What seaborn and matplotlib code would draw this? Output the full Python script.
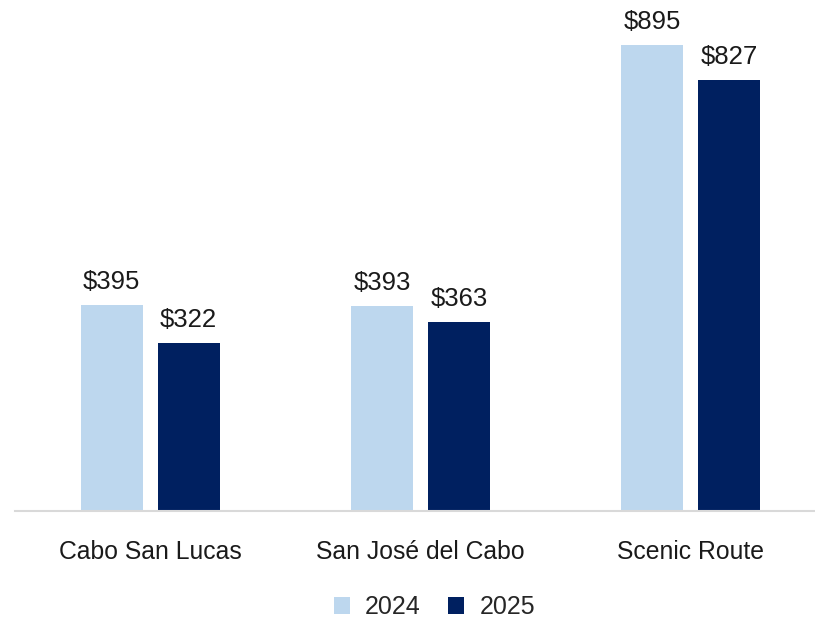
import matplotlib
matplotlib.use("Agg")
import matplotlib.pyplot as plt
import seaborn as sns
import pandas as pd

# Values
regions = ["Cabo San Lucas", "San José del Cabo", "Scenic Route"]
years = ["2024", "2025"]
price_2024 = [395, 393, 895]
price_2025 = [322, 363, 827]
colors = ["#BDD7EE", "#002060"]

df = pd.DataFrame({
    "region": regions * 2,
    "year": [years[0]] * 3 + [years[1]] * 3,
    "price": price_2024 + price_2025,
})

sns.set_style("white")
plt.rcParams["font.family"] = ["Liberation Sans", "DejaVu Sans"]

fig = plt.figure(figsize=(8.15, 6.2), dpi=100)
ax = fig.add_axes([15 / 815, 1 - 511 / 620, 800 / 815, 511 / 620])

sns.barplot(data=df, x="region", y="price", hue="year", order=regions,
            hue_order=years, palette=colors, width=0.569, gap=0.195,
            saturation=1, linewidth=0, ax=ax, legend=True)

for cont in ax.containers:
    ax.bar_label(cont, labels=[f"${v:.0f}" for v in cont.datavalues],
                 padding=8, fontsize=18.5, color="#1a1a1a")

ax.set_ylim(0, 981)
ax.set_xlim(-0.5, 2.46)
ax.set_xlabel("")
ax.set_ylabel("")
ax.set_yticks([])
ax.tick_params(axis="x", length=0, pad=21, labelsize=17.8, labelcolor="#1a1a1a")
for s in ["top", "right", "left"]:
    ax.spines[s].set_visible(False)
ax.spines["bottom"].set_color("#d9d9d9")
ax.spines["bottom"].set_linewidth(1.5)

handles, labels = ax.get_legend_handles_labels()
ax.get_legend().remove()
fig.legend(handles, labels, loc="lower center", bbox_to_anchor=(0.533, -0.035),
           ncol=2, frameon=False, fontsize=18, handlelength=0.65,
           handleheight=0.65, handletextpad=0.6, columnspacing=1.1)

fig.savefig("out.png", dpi=100)
